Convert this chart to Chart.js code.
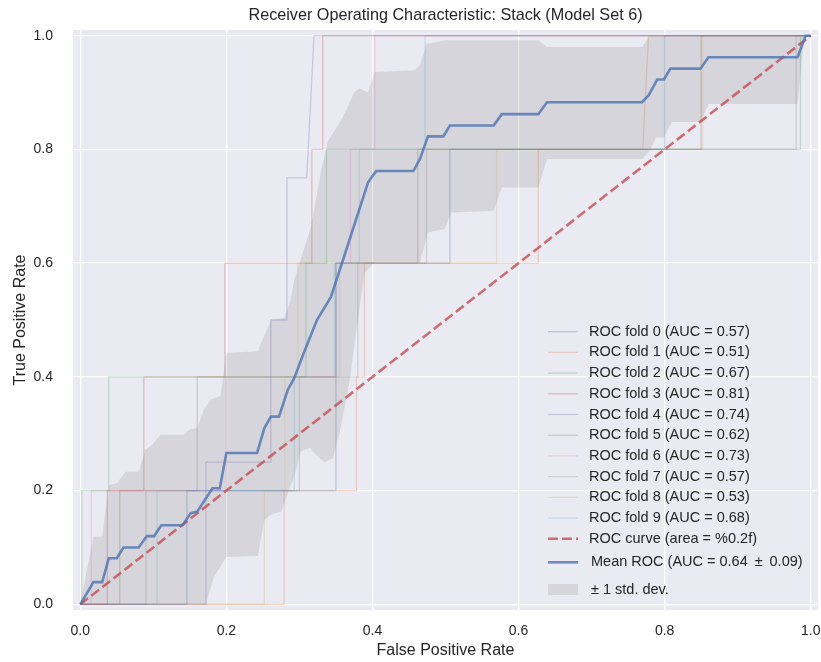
<!DOCTYPE html>
<html>
<head>
<meta charset="utf-8">
<script src="https://cdn.jsdelivr.net/npm/chart.js@4.4.1/dist/chart.umd.min.js"></script>
<style>
    html, body { margin: 0; padding: 0; background: #ffffff; }
    #wrap { width: 821px; height: 662px; }
</style>
</head>
<body>
<div id="wrap"><canvas id="roc" width="821" height="662"></canvas></div>
<script>
// ---- data ----
const tickValues = [0, 0.2, 0.4, 0.6, 0.8, 1.0];

const foldLabels = [
    'ROC fold 0 (AUC = 0.57)',
    'ROC fold 1 (AUC = 0.51)',
    'ROC fold 2 (AUC = 0.67)',
    'ROC fold 3 (AUC = 0.81)',
    'ROC fold 4 (AUC = 0.74)',
    'ROC fold 5 (AUC = 0.62)',
    'ROC fold 6 (AUC = 0.73)',
    'ROC fold 7 (AUC = 0.57)',
    'ROC fold 8 (AUC = 0.53)',
    'ROC fold 9 (AUC = 0.68)',
];

// fpr / tpr corners of each fold's ROC step curve
const foldFpr = [
    [0, 0.146, 0.146, 0.350, 0.350, 0.506, 0.506, 0.800, 0.800, 1],
    [0, 0.279, 0.279, 0.378, 0.378, 0.389, 0.389, 0.627, 0.627, 0.770, 0.778, 1],
    [0, 0.002, 0.002, 0.039, 0.039, 0.309, 0.309, 0.337, 0.337, 0.986, 0.986, 1],
    [0, 0.037, 0.037, 0.087, 0.087, 0.198, 0.198, 0.317, 0.317, 0.332, 0.332, 1],
    [0, 0.172, 0.172, 0.261, 0.261, 0.283, 0.283, 0.310, 0.320, 1],
    [0, 0.054, 0.054, 0.160, 0.160, 0.350, 0.350, 0.462, 0.462, 0.850, 0.850, 1],
    [0, 0.015, 0.015, 0.200, 0.200, 0.355, 0.355, 0.370, 0.370, 0.403, 0.403, 1],
    [0, 0.090, 0.090, 0.300, 0.300, 0.380, 0.380, 0.474, 0.474, 0.980, 0.980, 1],
    [0, 0.252, 0.252, 0.280, 0.280, 0.298, 0.298, 0.570, 0.570, 0.852, 0.852, 1],
    [0, 0.105, 0.105, 0.293, 0.293, 0.348, 0.348, 0.382, 0.382, 0.472, 0.472, 1],
];
const foldTpr = [
    [0, 0, 0.2, 0.2, 0.6, 0.6, 0.8, 0.8, 1, 1],
    [0, 0, 0.2, 0.2, 0.4, 0.4, 0.6, 0.6, 0.8, 0.8, 1, 1],
    [0, 0, 0.2, 0.2, 0.4, 0.4, 0.6, 0.6, 0.8, 0.8, 1, 1],
    [0, 0, 0.2, 0.2, 0.4, 0.4, 0.6, 0.6, 0.8, 0.8, 1, 1],
    [0, 0, 0.25, 0.25, 0.5, 0.5, 0.75, 0.75, 1, 1],
    [0, 0, 0.2, 0.2, 0.4, 0.4, 0.6, 0.6, 0.8, 0.8, 1, 1],
    [0, 0, 0.2, 0.2, 0.4, 0.4, 0.6, 0.6, 0.8, 0.8, 1, 1],
    [0, 0, 0.2, 0.2, 0.4, 0.4, 0.6, 0.6, 0.8, 0.8, 1, 1],
    [0, 0, 0.2, 0.2, 0.4, 0.4, 0.6, 0.6, 0.8, 0.8, 1, 1],
    [0, 0, 0.2, 0.2, 0.4, 0.4, 0.6, 0.6, 0.8, 0.8, 1, 1],
];

const chanceFpr = [0, 1];
const chanceTpr = [0, 1];

const meanFpr = [0, 0.018, 0.030, 0.039, 0.050, 0.059, 0.080, 0.091, 0.101, 0.111, 0.140, 0.151, 0.160,
    0.181, 0.191, 0.200, 0.242, 0.252, 0.261, 0.272, 0.284, 0.293, 0.305, 0.324, 0.343, 0.357, 0.394,
    0.405, 0.456, 0.465, 0.476, 0.497, 0.506, 0.566, 0.577, 0.627, 0.639, 0.769, 0.778, 0.790, 0.799,
    0.808, 0.849, 0.860, 0.982, 0.993, 1.0];
const meanTpr = [0, 0.039, 0.039, 0.081, 0.081, 0.100, 0.100, 0.120, 0.120, 0.139, 0.139, 0.160, 0.163,
    0.204, 0.204, 0.266, 0.266, 0.310, 0.330, 0.330, 0.377, 0.398, 0.439, 0.500, 0.540, 0.595, 0.742,
    0.762, 0.762, 0.783, 0.823, 0.823, 0.842, 0.842, 0.862, 0.862, 0.883, 0.883, 0.895, 0.923, 0.923,
    0.942, 0.942, 0.962, 0.962, 1.0, 1.0];

const upperFpr = [0, 0.018, 0.030, 0.039, 0.050, 0.062, 0.080, 0.089, 0.098, 0.110, 0.142, 0.149, 0.160,
    0.169, 0.179, 0.192, 0.200, 0.243, 0.261, 0.279, 0.288, 0.293, 0.316, 0.330, 0.339, 0.357, 0.369,
    0.375, 0.382, 0.394, 0.403, 0.458, 0.465, 0.474, 0.501, 0.627, 0.639, 0.769, 0.780, 1.0];
const upperTpr = [0, 0.119, 0.119, 0.210, 0.213, 0.233, 0.233, 0.272, 0.280, 0.298, 0.298, 0.307, 0.310,
    0.342, 0.360, 0.366, 0.442, 0.445, 0.500, 0.504, 0.536, 0.571, 0.665, 0.765, 0.815, 0.851, 0.883,
    0.900, 0.907, 0.900, 0.936, 0.939, 0.948, 0.986, 0.992, 0.992, 0.980, 0.980, 1.0, 1.0];

const lowerFpr = [0, 0.172, 0.183, 0.200, 0.243, 0.252, 0.261, 0.275, 0.284, 0.293, 0.302, 0.314, 0.325,
    0.334, 0.346, 0.355, 0.369, 0.380, 0.389, 0.403, 0.465, 0.476, 0.499, 0.508, 0.566, 0.577, 0.627,
    0.639, 0.769, 0.781, 0.788, 0.799, 0.810, 0.849, 0.860, 0.982, 0.991, 1.0];
const lowerTpr = [0, 0, 0.048, 0.083, 0.085, 0.148, 0.158, 0.163, 0.195, 0.225, 0.269, 0.275, 0.260,
    0.250, 0.257, 0.301, 0.395, 0.500, 0.583, 0.601, 0.601, 0.654, 0.660, 0.689, 0.692, 0.733, 0.733,
    0.783, 0.783, 0.800, 0.821, 0.821, 0.848, 0.848, 0.880, 0.880, 1.0, 1.0];

const titleText = 'Receiver Operating Characteristic: Stack (Model Set 6)';
const chanceLabel = 'ROC curve (area = %0.2f)';
const meanLabel = 'Mean ROC (AUC = 0.64 \u2009\u00b1\u2009 0.09)';
const bandLabel = '\u00b1 1 std. dev.';

// ---- styles ----
const FONT = "'Liberation Sans', Arial, Helvetica, sans-serif";
const TEXT = '#262626';
const AXES_BG = '#eaeaf2';
const foldColors = [
    'rgba(76, 114, 176, 0.3)',
    'rgba(221, 132, 82, 0.3)',
    'rgba(85, 168, 104, 0.3)',
    'rgba(196, 78, 82, 0.3)',
    'rgba(129, 114, 179, 0.3)',
    'rgba(147, 120, 96, 0.3)',
    'rgba(218, 139, 195, 0.3)',
    'rgba(140, 140, 140, 0.3)',
    'rgba(204, 185, 116, 0.3)',
    'rgba(100, 181, 205, 0.3)',
];
const chanceColor = 'rgba(196, 78, 82, 0.8)';
const meanColor = 'rgba(76, 114, 176, 0.8)';
const bandColor = 'rgba(128, 128, 128, 0.2)';
const chanceDash = [9.8, 4.2];

function toPoints(xs, ys) {
    return xs.map(function (x, i) {
        return { x: x, y: ys[i] };
    });
}

function lineDataset(label, xs, ys, color, width, order) {
    return {
        label: label,
        data: toPoints(xs, ys),
        showLine: true,
        borderColor: color,
        backgroundColor: color,
        borderWidth: width,
        pointRadius: 0,
        pointHoverRadius: 0,
        tension: 0,
        fill: false,
        order: order,
    };
}

const datasets = [];
foldLabels.forEach(function (label, i) {
    datasets.push(lineDataset(label, foldFpr[i], foldTpr[i], foldColors[i], 1.3, 3));
});
const chance = lineDataset(chanceLabel, chanceFpr, chanceTpr, chanceColor, 2.6, 2);
chance.borderDash = chanceDash;
datasets.push(chance);
datasets.push(lineDataset(meanLabel, meanFpr, meanTpr, meanColor, 2.6, 1));
const upper = lineDataset(bandLabel, upperFpr, upperTpr, 'rgba(0,0,0,0)', 0, 4);
upper.fill = '+1';
upper.backgroundColor = bandColor;
datasets.push(upper);
datasets.push(lineDataset('lower', lowerFpr, lowerTpr, 'rgba(0,0,0,0)', 0, 4));

// plot background + title centred over the axes
const axesBackground = {
    id: 'axesBackground',
    beforeDraw: function (chart) {
        const a = chart.chartArea;
        const c = chart.ctx;
        c.save();
        c.fillStyle = AXES_BG;
        c.fillRect(a.left, a.top, a.right - a.left, a.bottom - a.top);
        c.fillStyle = TEXT;
        c.font = '16.2px ' + FONT;
        c.textAlign = 'center';
        c.textBaseline = 'middle';
        c.fillText(titleText, (a.left + a.right) / 2, 16);
        c.restore();
    },
};

// legend in the lower right, inside the axes
const insideLegend = {
    id: 'insideLegend',
    afterDraw: function (chart) {
        const c = chart.ctx;
        const x0 = 548;
        const x1 = 578;
        const tx = 589;
        const rows = [];
        foldLabels.forEach(function (label, i) {
            rows.push({ y: 331.7 + i * 20.7, label: label, color: foldColors[i], width: 1.3 });
        });
        rows.push({ y: 538.7, label: chanceLabel, color: chanceColor, width: 2.6, dash: chanceDash });
        rows.push({ y: 562.3, label: meanLabel, color: meanColor, width: 2.6, tx: 591 });
        c.save();
        c.font = '14.5px ' + FONT;
        c.textBaseline = 'middle';
        c.textAlign = 'left';
        rows.forEach(function (r) {
            c.beginPath();
            c.setLineDash(r.dash || []);
            c.strokeStyle = r.color;
            c.lineWidth = r.width;
            c.moveTo(x0, r.y);
            c.lineTo(x1, r.y);
            c.stroke();
            c.fillStyle = TEXT;
            c.fillText(r.label, r.tx || tx, r.y);
        });
        c.setLineDash([]);
        c.fillStyle = bandColor;
        c.fillRect(x0, 584, x1 - x0, 11);
        c.fillStyle = TEXT;
        c.fillText(bandLabel, 591, 589.5);
        c.restore();
    },
};

function setTicks(scale) {
    scale.ticks = tickValues.map(function (v) {
        return { value: v };
    });
}

new Chart(document.getElementById('roc').getContext('2d'), {
    type: 'scatter',
    data: { datasets: datasets },
    options: {
        responsive: false,
        animation: false,
        events: [],
        layout: { padding: { left: 0, right: 3, top: 30, bottom: 0 } },
        plugins: {
            legend: { display: false },
            tooltip: { enabled: false },
            title: { display: false },
        },
        scales: {
            x: {
                type: 'linear',
                min: -0.01,
                max: 1.01,
                afterBuildTicks: setTicks,
                afterFit: function (s) {
                    s.height = 52;
                    s.paddingLeft = 0;
                    s.paddingRight = 0;
                },
                border: { display: false },
                grid: { color: '#ffffff', lineWidth: 1.3, drawTicks: false },
                ticks: {
                    padding: 13,
                    color: TEXT,
                    font: { family: FONT, size: 14 },
                    callback: function (v) { return Number(v).toFixed(1); },
                },
                title: {
                    display: true,
                    text: 'False Positive Rate',
                    color: TEXT,
                    font: { family: FONT, size: 16 },
                    padding: { top: 0, bottom: 1.7 },
                },
            },
            y: {
                type: 'linear',
                min: -0.01,
                max: 1.01,
                afterBuildTicks: setTicks,
                afterFit: function (s) {
                    s.width = 73;
                    s.paddingTop = 0;
                    s.paddingBottom = 0;
                },
                border: { display: false },
                grid: { color: '#ffffff', lineWidth: 1.3, drawTicks: false },
                ticks: {
                    padding: 20,
                    color: TEXT,
                    font: { family: FONT, size: 14 },
                    callback: function (v) { return Number(v).toFixed(1); },
                },
                title: {
                    display: true,
                    text: 'True Positive Rate',
                    color: TEXT,
                    font: { family: FONT, size: 16 },
                    padding: { top: 10.5, bottom: 0 },
                },
            },
        },
    },
    plugins: [axesBackground, insideLegend],
});
</script>
</body>
</html>
